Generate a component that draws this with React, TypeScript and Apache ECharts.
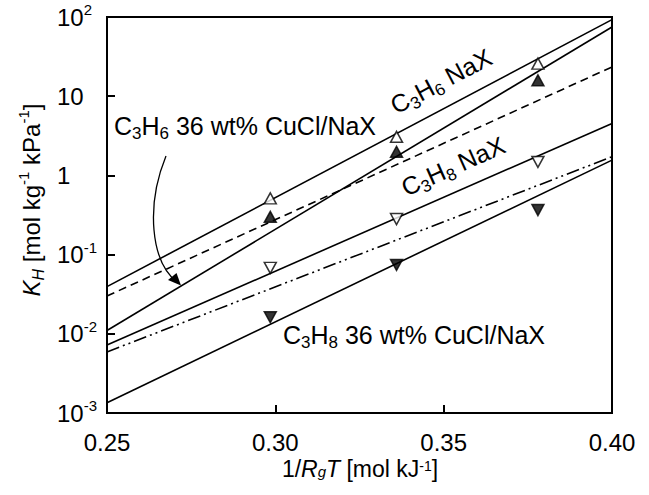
import React, { useEffect, useRef } from "react";
import * as echarts from "echarts";

const lineX = [0.25, 0.4];
const c3h6NaXLine = [0.0394, 92.7];
const c3h6CuClLine = [0.011, 74.8];
const c3h6DashLine = [0.03, 23.4];
const c3h8NaXLine = [0.0072, 4.53];
const c3h8DashDotLine = [0.0059, 1.72];
const c3h8CuClLine = [0.00135, 1.56];

const pointX = [0.2985, 0.336, 0.378];
const c3h6NaXPts = [0.513, 3.07, 25.8];
const c3h6CuClPts = [0.3, 1.99, 15.9];
const c3h8NaXPts = [0.068, 0.281, 1.48];
const c3h8CuClPts = [0.0162, 0.074, 0.365];

const FONT = "Liberation Sans";

const mkRich = (fs: number, lh: number, subFs: number, subLh: number, supFs: number, supLh: number): any => ({
  n: { fontSize: fs, lineHeight: lh, fontFamily: FONT, color: "#000" },
  i: { fontSize: fs, lineHeight: lh, fontFamily: FONT, fontStyle: "italic", color: "#000" },
  sub: { fontSize: subFs, lineHeight: subLh, fontFamily: FONT, verticalAlign: "bottom", color: "#000" },
  isub: { fontSize: subFs, lineHeight: subLh, fontFamily: FONT, fontStyle: "italic", verticalAlign: "bottom", color: "#000" },
  sup: { fontSize: supFs, lineHeight: supLh, fontFamily: FONT, verticalAlign: "top", color: "#000" },
});

const richTick = mkRich(24, 30, 16, 16, 15, 18);
const richNote = mkRich(25, 32, 17, 16, 15, 20);
const richTitle = mkRich(23, 20, 15, 9, 14, 12);

const pair = (xs: number[], ys: number[]) => xs.map((x, k) => [x, ys[k]]);

export default function App() {
  const ref = useRef<HTMLDivElement>(null);
  useEffect(() => {
    if (!ref.current) return;
    const chart = echarts.init(ref.current, null, { renderer: "svg" });
    const lineSeries = (data: number[], type: any) => ({
      type: "line",
      data: pair(lineX, data),
      symbol: "none",
      silent: true,
      lineStyle: { color: "#000", width: 1.6, type },
    });
    const scatter = (data: number[], filled: boolean, down: boolean) => ({
      type: "scatter",
      data: pair(pointX, data),
      symbol: "triangle",
      symbolSize: [12, 11],
      symbolRotate: down ? 180 : 0,
      itemStyle: {
        color: filled ? "#000" : "#fff",
        borderColor: "#000",
        borderWidth: 1.5,
      },
      z: 5,
    });
    chart.setOption({
      animation: false,
      backgroundColor: "#fff",
      grid: {
        left: 107,
        right: 37,
        top: 17,
        bottom: 82,
        show: true,
        borderColor: "#000",
        borderWidth: 2,
        backgroundColor: "transparent",
      },
      xAxis: {
        type: "value",
        min: 0.25,
        max: 0.4,
        interval: 0.05,
        axisLine: { lineStyle: { color: "#000", width: 2 } },
        axisTick: { inside: true, length: 8, lineStyle: { color: "#000", width: 2 } },
        splitLine: { show: false },
        axisLabel: {
          margin: 20,
          fontSize: 24,
          lineHeight: 18,
          fontFamily: FONT,
          color: "#000",
          formatter: (v: number) => v.toFixed(2),
        },
      },
      yAxis: {
        type: "log",
        logBase: 10,
        min: 0.001,
        max: 100,
        interval: 1,
        axisLine: { lineStyle: { color: "#000", width: 2 } },
        axisTick: { inside: true, length: 8, lineStyle: { color: "#000", width: 2 } },
        splitLine: { show: false },
        minorTick: { show: false },
        axisLabel: {
          margin: 50,
          align: "left",
          rich: richTick,
          formatter: (v: number) => {
            const e = Math.round(Math.log10(v));
            if (e === 0) return "{n|1}";
            if (e === 1) return "{n|10}";
            return "{n|10}{sup|" + e + "}";
          },
        },
      },
      series: [
        lineSeries(c3h6NaXLine, "solid"),
        lineSeries(c3h6CuClLine, "solid"),
        lineSeries(c3h6DashLine, [8, 5]),
        lineSeries(c3h8NaXLine, "solid"),
        lineSeries(c3h8DashDotLine, [13, 4, 2, 4, 2, 4]),
        lineSeries(c3h8CuClLine, "solid"),
        scatter(c3h6NaXPts, false, false),
        scatter(c3h6CuClPts, true, false),
        scatter(c3h8NaXPts, false, true),
        scatter(c3h8CuClPts, true, true),
      ],
      graphic: [
        {
          type: "text",
          x: 114,
          y: 126,
          style: {
            text: "{n|C}{sub|3}{n|H}{sub|6}{n| 36 wt% CuCl/NaX}",
            rich: richNote,
            align: "left",
            verticalAlign: "middle",
          },
        },
        {
          type: "text",
          x: 283,
          y: 335,
          style: {
            text: "{n|C}{sub|3}{n|H}{sub|8}{n| 36 wt% CuCl/NaX}",
            rich: richNote,
            align: "left",
            verticalAlign: "middle",
          },
        },
        {
          type: "text",
          x: 441,
          y: 81,
          rotation: (27.9 * Math.PI) / 180,
          style: {
            text: "{n|C}{sub|3}{n|H}{sub|6}{n| NaX}",
            rich: richNote,
            align: "center",
            verticalAlign: "middle",
          },
        },
        {
          type: "text",
          x: 453,
          y: 166,
          rotation: (24 * Math.PI) / 180,
          style: {
            text: "{n|C}{sub|3}{n|H}{sub|8}{n| NaX}",
            rich: richNote,
            align: "center",
            verticalAlign: "middle",
          },
        },
        {
          type: "text",
          x: 31,
          y: 200,
          rotation: Math.PI / 2,
          style: {
            text: "{i|K}{isub|H}{n| [mol kg}{sup|-1}{n| kPa}{sup|-1}{n|]}",
            rich: richTick,
            align: "center",
            verticalAlign: "middle",
          },
        },
        {
          type: "text",
          x: 360,
          y: 469,
          style: {
            text: "{n|1/}{i|R}{isub|g}{i|T}{n| [mol kJ}{sup|-1}{n|]}",
            rich: richTitle,
            align: "center",
            verticalAlign: "middle",
          },
        },
        {
          type: "bezierCurve",
          shape: { x1: 166, y1: 156, cpx1: 146, cpy1: 205, cpx2: 150, cpy2: 262, x2: 178, y2: 283 },
          style: { stroke: "#000", lineWidth: 1.3, fill: "none" },
        },
        {
          type: "polygon",
          shape: { points: [[181, 285.5], [168, 280], [176.5, 273]] },
          style: { fill: "#000" },
        },
      ],
    });
    return () => chart.dispose();
  }, []);
  return <div ref={ref} style={{ width: 649, height: 495, position: "absolute", left: 0, top: 0 }} />;
}
